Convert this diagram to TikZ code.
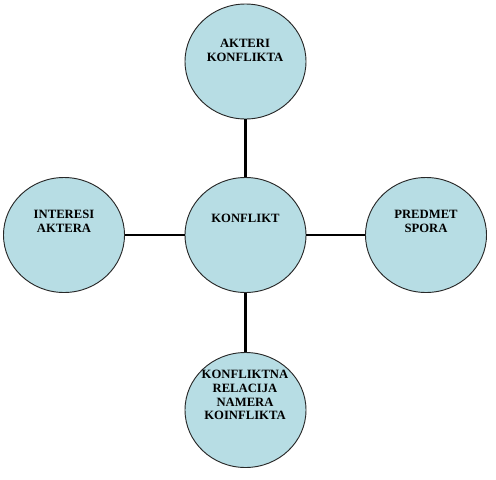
\documentclass[tikz,border=0pt]{standalone}
\usepackage{fontspec}
\setmainfont{Liberation Serif}
\usetikzlibrary{shapes.geometric}
\definecolor{bubblefill}{RGB}{183,221,228}
\definecolor{bubbleline}{RGB}{40,40,40}
\begin{document}
\begin{tikzpicture}[x=0.75pt, y=-0.75pt, font=\bfseries\fontsize{9.5}{10.4}\selectfont]
      \tikzset{bubble/.style={ellipse, draw=bubbleline, line width=0.7pt, fill=bubblefill, minimum width=90.75pt, minimum height=86.25pt, inner sep=0pt},
               txt/.style={align=center, inner sep=0pt},
               link/.style={line width=2.2pt}}
      \useasboundingbox (0,0) rectangle (496,479);
      \node[bubble] (kon) at (245.5,235) {};
      \node[bubble] (akt) at (245.5,61.5) {};
      \node[bubble] (int) at (64,235) {};
      \node[bubble] (pre) at (426,235) {};
      \node[bubble] (rel) at (245.5,410) {};
      \node[txt] (kon-t) at (245.5,218) {KONFLIKT};
      \node[txt] (akt-t) at (245,50) {AKTERI\\KONFLIKTA};
      \node[txt] (int-t) at (64,221.5) {INTERESI\\AKTERA};
      \node[txt] (pre-t) at (426,221.5) {PREDMET\\SPORA};
      \node[txt] (rel-t) at (245,395) {KONFLIKTNA\\RELACIJA\\NAMERA\\KOINFLIKTA};
      \draw[link] (akt) -- (kon);
      \draw[link] (int) -- (kon);
      \draw[link] (pre) -- (kon);
      \draw[link] (rel) -- (kon);
    \end{tikzpicture}
\end{document}
